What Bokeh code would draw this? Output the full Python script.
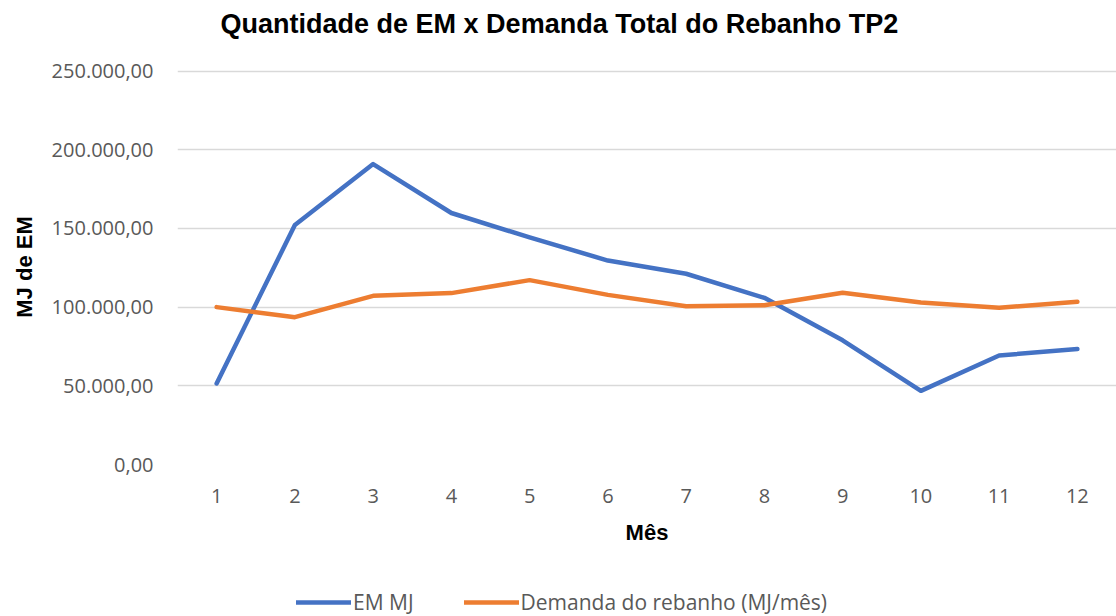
from bokeh.plotting import figure
from bokeh.layouts import column
from bokeh.models import ColumnDataSource, Range1d, FixedTicker, Legend, LegendItem, CustomJSTickFormatter, Label
from bokeh.embed import file_html
from bokeh.resources import INLINE

meses = [1, 2, 3, 4, 5, 6, 7, 8, 9, 10, 11, 12]
em_mj = [51500, 152200, 190900, 159800, 144300, 129600, 121200, 105900, 78900, 46800, 69300, 73400]
demanda = [100000, 93600, 107200, 108900, 117150, 107800, 100600, 101200, 109100, 103000, 99600, 103400]
y_ticks = [0, 50000, 100000, 150000, 200000, 250000]
titulo = "Quantidade de EM x Demanda Total do Rebanho TP2"

BLUE = "#4472C4"
ORANGE = "#ED7D31"
GRAY = "#595959"

src = ColumnDataSource(dict(x=meses, em=em_mj, dem=demanda))

# title strip
tf = figure(width=1116, height=46, output_backend="svg", toolbar_location=None,
            x_axis_location=None, y_axis_location=None,
            x_range=Range1d(0.5, 12.5), y_range=Range1d(0, 1), min_border=0)
tf.outline_line_color = None
tf.xgrid.grid_line_color = None
tf.ygrid.grid_line_color = None
tf.add_layout(Label(x=5.38, y=0.5, text=titulo, text_font="Liberation Sans",
                    text_font_style="bold", text_font_size="27px", text_color="black",
                    text_align="center", text_baseline="middle"))

p = figure(width=1116, height=538, output_backend="svg", toolbar_location=None,
           x_range=Range1d(0.5, 12.5), y_range=Range1d(0, 251000),
           min_border_left=177, min_border_right=0, min_border_top=23, min_border_bottom=120)
p.outline_line_color = None
p.background_fill_color = "white"

p.line("x", "em", source=src, line_color=BLUE, line_width=4.5, line_cap="round", line_join="round")
p.line("x", "dem", source=src, line_color=ORANGE, line_width=4.5, line_cap="round", line_join="round")

p.xgrid.grid_line_color = None
p.ygrid.grid_line_color = "#D9D9D9"
p.ygrid.grid_line_width = 1.5

p.yaxis.ticker = FixedTicker(ticks=y_ticks)
p.xaxis.ticker = FixedTicker(ticks=meses)
p.yaxis.formatter = CustomJSTickFormatter(code="""
    const s = Math.round(tick).toString().replace(/\\B(?=(\\d{3})+(?!\\d))/g, '.');
    return s + ',00';
""")
for ax in (p.xaxis, p.yaxis):
    ax.axis_line_color = None
    ax.major_tick_line_color = None
    ax.minor_tick_line_color = None
    ax.major_label_text_font = "Open Sans"
    ax.major_label_text_font_size = "20px"
    ax.major_label_text_color = GRAY
    ax.axis_label_text_font = "Liberation Sans"
    ax.axis_label_text_font_style = "bold"
    ax.axis_label_text_font_size = "22px"
    ax.axis_label_text_color = "black"

p.xaxis.major_label_standoff = 18
p.yaxis.major_label_standoff = 18
p.xaxis.axis_label = "Mês"
p.yaxis.axis_label = "MJ de EM"
p.xaxis.axis_label_standoff = 14
p.yaxis.axis_label_standoff = 12

# legend strip below the chart
lf = figure(width=1116, height=32, output_backend="svg", toolbar_location=None,
            x_axis_location=None, y_axis_location=None,
            x_range=Range1d(0.5, 12.5), y_range=Range1d(0, 251000),
            min_border=0)
lf.outline_line_color = None
lf.xgrid.grid_line_color = None
lf.ygrid.grid_line_color = None
lr1 = lf.line("x", "em", source=src, line_color=BLUE, line_width=4.5, line_cap="round")
lr2 = lf.line("x", "dem", source=src, line_color=ORANGE, line_width=4.5, line_cap="round")
lr1.visible = False
lr2.visible = False

legend = Legend(items=[LegendItem(label="EM MJ", renderers=[lr1]),
                       LegendItem(label="Demanda do rebanho (MJ/mês)", renderers=[lr2])],
                orientation="horizontal", location=(119, 0),
                padding=0, margin=0, spacing=50, glyph_width=55, glyph_height=20,
                label_standoff=2, label_text_font="Open Sans", label_text_font_size="21px",
                label_text_color=GRAY, border_line_color=None, background_fill_alpha=0,
                inactive_fill_alpha=0)
lf.add_layout(legend)

open("out.html", "w").write(file_html(column(tf, p, lf, spacing=0), INLINE))
